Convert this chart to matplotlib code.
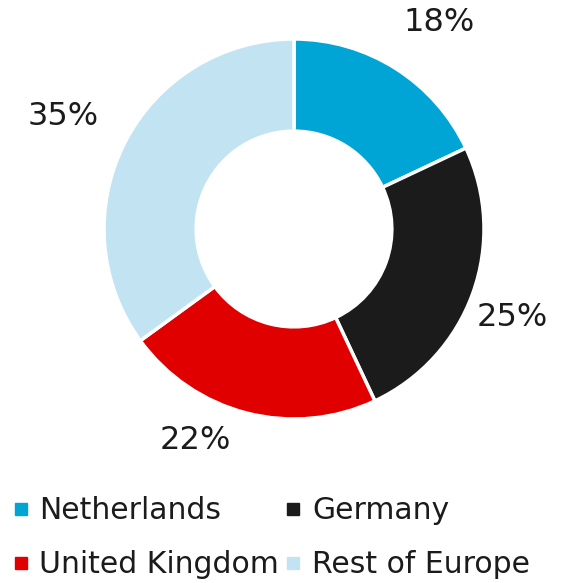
import numpy as np
import matplotlib.pyplot as plt
from matplotlib.lines import Line2D

# ── Data ───────────────────────────────────────────────────────────────────────
REGIONS = ['Netherlands', 'Germany', 'United Kingdom', 'Rest of Europe']
SHARES  = [18, 25, 22, 35]
COLOURS = ['#00a5d5', '#1b1b1b', '#e10000', '#c2e4f2']

# label placement (radius factor, angle in degrees) — Excel style "outside end"
LABEL_POS = [(1.33, 55), (1.24, -22), (1.23, -115), (1.35, 154)]

plt.rcParams['font.family'] = ['DejaVu Sans']

fig = plt.figure(figsize=(5.72, 5.83), dpi=100)
W, H = 572, 583
cx, cy, R = 294, 229, 190
ax = fig.add_axes([(cx - R) / W, 1 - (cy + R) / H, 2 * R / W, 2 * R / H])

wedges, _ = ax.pie(SHARES, colors=COLOURS, startangle=90, counterclock=False,
                   radius=1, wedgeprops=dict(width=0.485, edgecolor='white', linewidth=2.5))
ax.set_xlim(-1, 1)
ax.set_ylim(-1, 1)
ax.set_aspect('equal')
ax.axis('off')

for share, (r, a) in zip(SHARES, LABEL_POS):
    ax.text(r * np.cos(np.radians(a)), r * np.sin(np.radians(a)), f'{share}%',
            ha='center', va='center', fontsize=23, color='#1b1b1b', clip_on=False)

# legend is filled row by row in the reference -> reorder for column-major fill
order = [0, 2, 1, 3]
handles = [Line2D([], [], marker='s', linestyle='none', markersize=9,
                  markerfacecolor=COLOURS[i], markeredgecolor=COLOURS[i]) for i in order]
fig.legend(handles, [REGIONS[i] for i in order], loc='lower left',
           bbox_to_anchor=(0.0035, -0.014), ncol=2, frameon=False, fontsize=21.5,
           handlelength=0.45, handletextpad=0.4, columnspacing=0.25,
           labelspacing=0.83, borderaxespad=0.0, labelcolor='#1b1b1b')

fig.savefig('out.png', dpi=100)
